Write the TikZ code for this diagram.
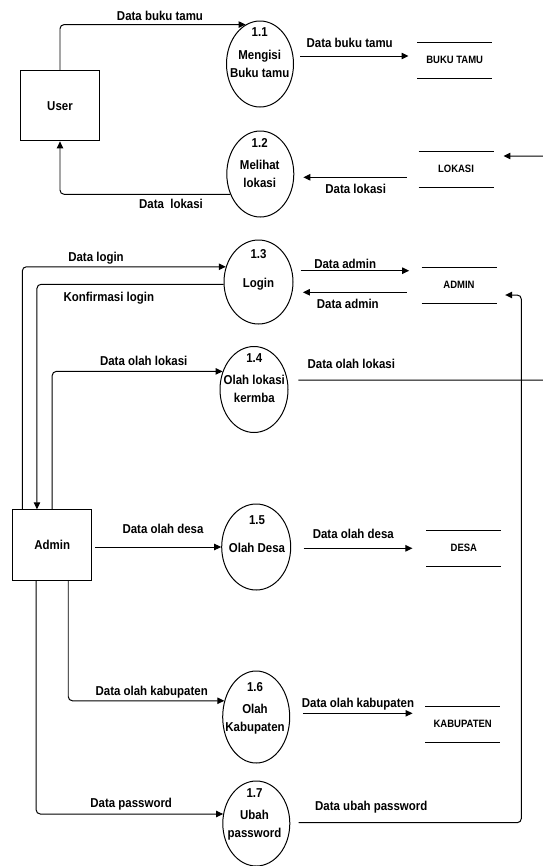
\documentclass[tikz,border=0pt]{standalone}
\usepackage{fontspec}
\setmainfont{Liberation Sans}
\newfontfamily\dfdfamily[FakeStretch=0.89]{Liberation Sans}
\usepackage{tikz}
\usetikzlibrary{arrows.meta, shapes.geometric}

\newcommand{\dfdfont}{\dfdfamily\fontsize{11}{15.4}\selectfont\bfseries}
\newcommand{\storefont}{\dfdfamily\fontsize{9.1}{10.5}\selectfont\bfseries}

\begin{document}
\begin{tikzpicture}[x=0.03cm, y=-0.03cm, line width=0.85pt,
    >={Triangle[length=6pt, width=5.5pt]}, inner sep=0pt,
    every node/.style={font=\dfdfont}, align=center]

  \tikzstyle{ext}=[rectangle, draw, minimum width=2.36cm, minimum height=2.11cm]
  \tikzstyle{proc}=[ellipse, draw, minimum width=2.01cm, minimum height=2.58cm]
  \tikzstyle{store}=[minimum width=2.22cm, minimum height=1.05cm, font=\storefont,
    append after command={(\tikzlastnode.north west) edge (\tikzlastnode.north east)
      (\tikzlastnode.south west) edge (\tikzlastnode.south east)}]
  \tikzstyle{lbl}=[text height=7.9pt, text depth=0pt]
  \tikzstyle{flow}=[->, rounded corners=3.5pt]

  \useasboundingbox (0,0) rectangle (543,866);
  \clip (0,0) rectangle (543,866);

  % external entities
  \node[ext] (User)  at (60,105.7) {User};
  \node[ext] (Admin) at (52.2,545) {Admin};

  % processes
  \node[proc] (P11) at (260,64) {};
  \node[proc] (P12) at (260.3,174) {};
  \node[proc, minimum width=2.07cm, minimum height=2.52cm] (P13) at (258.5,282) {};
  \node[proc, minimum width=2.04cm] (P14) at (254,389.5) {};
  \node[proc, minimum width=2.07cm] (P15) at (256.2,547) {};
  \node[proc, minimum height=2.76cm] (P16) at (256.2,717) {};
  \node[proc, minimum height=2.55cm] (P17) at (256.3,823.5) {};

  \node (P11txt) at (259.7,52.7) {1.1\\[3.5pt]Mengisi\\Buku tamu};
  \node (P12txt) at (259.7,163)  {1.2\\[3.5pt]Melihat\\lokasi};
  \node (P13txt) at (258.5,270)  {1.3\\[9.2pt]Login};
  \node (P14txt) at (254.3,378)  {1.4\\[3.5pt]Olah lokasi\\kermba};
  \node (P15txt) at (257,534.2)  {1.5\\[9.2pt]Olah Desa};
  \node (P16txt) at (255,708.5)  {1.6\\[3.5pt]Olah\\Kabupaten};
  \node (P17txt) at (254.5,814)  {1.7\\[3.5pt]Ubah\\password};

  % data stores
  \node[store] (BUKUTAMU)  at (454.7,60)    {BUKU TAMU};
  \node[store] (LOKASI)    at (456,169.2)   {LOKASI};
  \node[store] (ADMIN)     at (459,285)     {ADMIN};
  \node[store] (DESA)      at (463.9,548.2) {DESA};
  \node[store] (KABUPATEN) at (462.7,724.2) {KABUPATEN};

  \coordinate (rim)  at (560,0);
  \coordinate (rail) at (521.3,0);

  % user flows
  \draw[flow] (User.north) |- (P11.110);
  \draw[flow] (P12.214) -| (User.south);
  \draw[flow, shorten <=5.3pt, shorten >=7.4pt] (P11.east |- 0,56) -- (BUKUTAMU.west |- 0,56);
  \draw[flow, shorten <=10pt, shorten >=7.7pt] (LOKASI.west |- 0,177.3) -- (P12.east |- 0,177.3);

  % admin flows
  \draw[flow] ([xshift=8.5pt]Admin.north west) |- (P13.155);
  \draw[flow] (P13.west |- 0,284.3) -| ([xshift=-13pt]Admin.north);
  \draw[flow] (Admin.north) |- (P14.150);
  \draw[flow, shorten <=2.5pt] (Admin.east |- P15) -- (P15);
  \draw[flow] ([xshift=13.7pt]Admin.south) |- (P16.153);
  \draw[flow] ([xshift=-13.7pt]Admin.south) |- (P17.164);

  \draw[flow, shorten <=6pt, shorten >=10.5pt] (P13.east |- 0,270.7) -- (ADMIN.west |- 0,270.7);
  \draw[flow, shorten <=12.5pt, shorten >=8pt] (ADMIN.west |- 0,292.3) -- (P13.east |- 0,292.3);
  \draw[flow, shorten <=8.5pt, shorten >=8.5pt] (P14.east |- 0,380) -| (rim |- 0,156) -- (LOKASI.east |- 0,156);
  \draw[flow, shorten <=10.5pt, shorten >=11.9pt] (P15.east |- 0,548.3) -- (DESA.west |- 0,548.3);
  \draw[flow, shorten <=10.8pt, shorten >=10.8pt] (P16.east |- 0,713.3) -- (KABUPATEN.west |- 0,713.3);
  \draw[flow, shorten <=7pt, shorten >=7.4pt] (P17.east |- 0,822.7) -| (rail |- 0,295) -- (ADMIN.east |- 0,295);

  % flow labels
  \node[lbl] (lUserIn)    at (160,16)      {Data buku tamu};
  \node[lbl] (lBukuIn)    at (349.7,43.3)  {Data buku tamu};
  \node[lbl] (lLokasiOut) at (355.7,189.3) {Data lokasi};
  \node[lbl] (lUserOut)   at (171,204)     {Data\ \ lokasi};
  \node[lbl] (lLogin)     at (96,256.7)    {Data login};
  \node[lbl] (lKonf)      at (108.8,296.5) {Konfirmasi login};
  \node[lbl] (lAdminIn)   at (345.2,264)   {Data admin};
  \node[lbl] (lAdminOut)  at (347.8,303.5) {Data admin};
  \node[lbl] (lOlahLok)   at (143.7,360.7) {Data olah lokasi};
  \node[lbl] (lLokasiIn)  at (351.3,364)   {Data olah lokasi};
  \node[lbl] (lDesaIn)    at (163,529.3)   {Data olah desa};
  \node[lbl] (lDesaOut)   at (353.3,534.3) {Data olah desa};
  \node[lbl] (lKabIn)     at (151.7,691)   {Data olah kabupaten};
  \node[lbl] (lKabOut)    at (358,702.7)   {Data olah kabupaten};
  \node[lbl] (lPass)      at (131.2,803.3) {Data password};
  \node[lbl] (lPassOut)   at (371.3,806)   {Data ubah password};
\end{tikzpicture}
\end{document}
